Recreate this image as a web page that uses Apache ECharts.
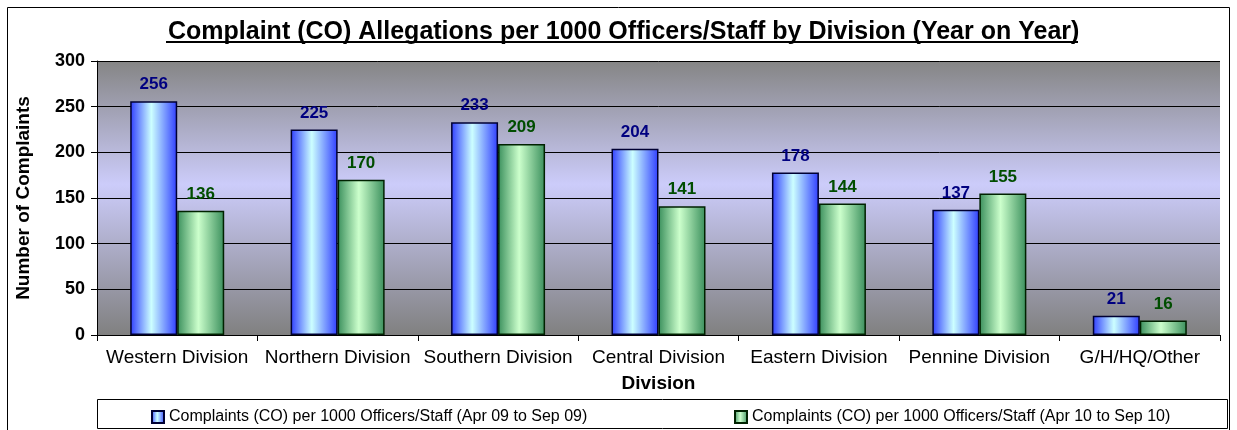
<!DOCTYPE html>
<html>
<head>
<meta charset="utf-8">
<script src="https://cdn.jsdelivr.net/npm/echarts@6/dist/echarts.min.js"></script>
<style>
  html, body { margin: 0; padding: 0; background: #fff; }
  #chart { width: 1237px; height: 430px; }
</style>
</head>
<body>
<div id="chart"></div>
<script>
var chart = echarts.init(document.getElementById('chart'));

// data
var divisions = ['Western Division', 'Northern Division', 'Southern Division', 'Central Division',
  'Eastern Division', 'Pennine Division', 'G/H/HQ/Other'];
var seriesNames = ['Complaints (CO) per 1000 Officers/Staff (Apr 09 to Sep 09)',
  'Complaints (CO) per 1000 Officers/Staff (Apr 10 to Sep 10)'];
var year09 = [256, 225, 233, 204, 178, 137, 21];
var year10 = [136, 170, 209, 141, 144, 155, 16];

function barFill(edge, mid) {
  return new echarts.graphic.LinearGradient(0, 0, 1, 0, [
    { offset: 0, color: edge },
    { offset: 0.45, color: mid },
    { offset: 1, color: edge }
  ]);
}

var font = 'Arial, "Liberation Sans", sans-serif';

var options = {
  animation: false,
  textStyle: { fontFamily: font },
  title: {
    text: 'Complaint (CO) Allegations per 1000 Officers/Staff by Division (Year on Year)',
    left: 163,
    top: 15,
    textStyle: { fontSize: 25, fontWeight: 'bold', color: '#000', fontFamily: font }
  },
  legend: [{
    data: [seriesNames[0]],
    left: 146,
    top: 404,
    icon: 'rect',
    itemWidth: 12,
    itemHeight: 12,
    itemGap: 4,
    textStyle: { fontSize: 16, color: '#000', fontFamily: font }
  }, {
    data: [seriesNames[1]],
    left: 729,
    top: 404,
    icon: 'rect',
    itemWidth: 12,
    itemHeight: 12,
    textStyle: { fontSize: 16, color: '#000', fontFamily: font }
  }],
  grid: {
    left: 97,
    right: 17,
    top: 61,
    bottom: 95,
    show: true,
    borderWidth: 0,
    backgroundColor: new echarts.graphic.LinearGradient(0, 0, 0, 1, [
      { offset: 0, color: '#858585' },
      { offset: 0.45, color: '#ccccfa' },
      { offset: 1, color: '#808080' }
    ])
  },
  xAxis: {
    type: 'category',
    data: divisions,
    name: 'Division',
    nameLocation: 'middle',
    nameGap: 39,
    nameTextStyle: { fontSize: 19, fontWeight: 'bold', color: '#000' },
    axisLine: { lineStyle: { color: '#000', width: 1 } },
    axisTick: { show: true, length: 6, lineStyle: { color: '#000' } },
    axisLabel: { fontSize: 19, color: '#000', margin: 13, interval: 0 }
  },
  yAxis: {
    type: 'value',
    min: 0,
    max: 300,
    interval: 50,
    name: 'Number of Complaints',
    nameLocation: 'middle',
    nameGap: 64,
    nameTextStyle: { fontSize: 19, fontWeight: 'bold', color: '#000' },
    axisLine: { show: true, lineStyle: { color: '#000', width: 1 } },
    axisTick: { show: true, length: 6, lineStyle: { color: '#000' } },
    axisLabel: { fontSize: 18, fontWeight: 'bold', color: '#000', margin: 12 },
    splitLine: { show: true, lineStyle: { color: '#000', width: 1 } }
  },
  series: [{
    name: seriesNames[0],
    type: 'bar',
    data: year09,
    barWidth: 47,
    barGap: '0%',
    itemStyle: {
      color: barFill('#2f3dff', '#ccffff'),
      borderColor: '#000033',
      borderWidth: 1.5
    },
    label: {
      show: true,
      position: 'top',
      distance: 8,
      fontSize: 17,
      fontWeight: 'bold',
      color: '#000080'
    }
  }, {
    name: seriesNames[1],
    type: 'bar',
    data: year10,
    barWidth: 47,
    itemStyle: {
      color: barFill('#3a8f5c', '#ccffcc'),
      borderColor: '#002200',
      borderWidth: 1.5
    },
    label: {
      show: true,
      position: 'top',
      distance: 8,
      fontSize: 17,
      fontWeight: 'bold',
      color: '#004d00'
    }
  }],
  graphic: [{
    type: 'rect',
    shape: { x: 7.5, y: 7.5, width: 1222, height: 440 },
    style: { fill: null, stroke: '#000', lineWidth: 1 },
    silent: true
  }, {
    type: 'rect',
    shape: { x: 97.5, y: 399.5, width: 1130, height: 29 },
    style: { fill: null, stroke: '#000', lineWidth: 1 },
    silent: true
  }, {
    type: 'rect',
    shape: { x: 166, y: 41, width: 912, height: 2 },
    style: { fill: '#000' },
    silent: true
  }]
};

chart.setOption(options);
</script>
</body>
</html>
